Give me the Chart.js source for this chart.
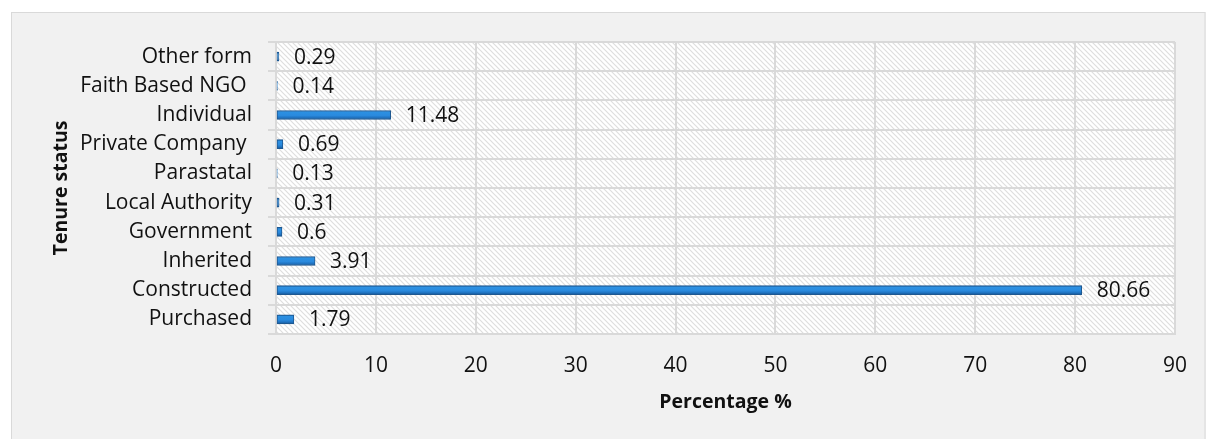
<!DOCTYPE html>
<html>
<head>
<meta charset="utf-8">
<title>Tenure status</title>
<script src="https://cdn.jsdelivr.net/npm/chart.js@4.4.1/dist/chart.umd.min.js"></script>
<style>
  html, body { margin: 0; padding: 0; background: #ffffff; }
  canvas { display: block; }
</style>
</head>
<body>
<canvas id="chart" width="1206" height="439"></canvas>
<script>
// Tenure status categories (bottom to top) and their shares in percent
const categories = [
  'Purchased', 'Constructed', 'Inherited', 'Government', 'Local Authority',
  'Parastatal', 'Private Company ', 'Individual', 'Faith Based NGO ', 'Other form'
];
const percentages = [1.79, 80.66, 3.91, 0.6, 0.31, 0.13, 0.69, 11.48, 0.14, 0.29];
const xTicks = [0, 10, 20, 30, 40, 50, 60, 70, 80, 90];

const FONT = "'Open Sans', 'Noto Sans', sans-serif";
const GRID = '#d9d9d9';

// diagonal hatch fill for the plot area
function makeHatch() {
  const s = 5;
  const c = document.createElement('canvas');
  c.width = s; c.height = s;
  const g = c.getContext('2d');
  g.fillStyle = '#ffffff';
  g.fillRect(0, 0, s, s);
  g.strokeStyle = '#dedede';
  g.lineWidth = 1.2;
  g.beginPath();
  g.moveTo(-1, -1); g.lineTo(s + 1, s + 1);
  g.moveTo(-1, s - 1); g.lineTo(1, s + 1);
  g.moveTo(s - 1, -1); g.lineTo(s + 1, 1);
  g.stroke();
  return g.createPattern(c, 'repeat');
}

const backdrop = {
  id: 'backdrop',
  beforeDraw(chart) {
    const { ctx, chartArea: a, width, height } = chart;
    ctx.save();
    ctx.fillStyle = '#ffffff';
    ctx.fillRect(0, 0, width, height);
    ctx.fillStyle = '#f1f1f1';
    ctx.fillRect(11, 12, width - 11, height - 12);
    ctx.strokeStyle = GRID;
    ctx.lineWidth = 1;
    ctx.strokeRect(11.5, 12.5, width - 12.5, height);
    ctx.fillStyle = makeHatch();
    ctx.fillRect(a.left, a.top, a.right - a.left, a.bottom - a.top);
    ctx.restore();
  }
};

// value labels to the right of each bar
const valueLabels = {
  id: 'valueLabels',
  afterDatasetsDraw(chart) {
    const { ctx } = chart;
    const meta = chart.getDatasetMeta(0);
    const data = chart.data.datasets[0].data;
    ctx.save();
    ctx.font = '21px ' + FONT;
    ctx.fillStyle = '#111111';
    ctx.textAlign = 'left';
    ctx.textBaseline = 'middle';
    meta.data.forEach((bar, i) => {
      ctx.fillText(String(data[i]), bar.x + 15, bar.y + 1);
    });
    ctx.restore();
  }
};

// cylinder-like shading across each bar
function barFill(c) {
  const chart = c.chart;
  if (c.type !== 'data' || !chart.chartArea) return '#2a88dc';
  const cy = chart.scales.y.getPixelForValue(c.dataIndex);
  const g = chart.ctx.createLinearGradient(0, cy - 4.5, 0, cy + 4.5);
  g.addColorStop(0, '#1d5f9f');
  g.addColorStop(0.18, '#2c90e2');
  g.addColorStop(0.55, '#2a8ade');
  g.addColorStop(0.82, '#1e70bd');
  g.addColorStop(1, '#174e85');
  return g;
}

new Chart(document.getElementById('chart'), {
  type: 'bar',
  data: {
    labels: categories,
    datasets: [{
      data: percentages,
      backgroundColor: barFill,
      borderColor: '#1e5891',
      borderWidth: 1,
      borderSkipped: false,
      barThickness: 9
    }]
  },
  options: {
    indexAxis: 'y',
    responsive: false,
    animation: false,
    layout: { padding: { top: 42, right: 28, bottom: 21, left: 46 } },
    plugins: { legend: { display: false }, tooltip: { enabled: false } },
    scales: {
      x: {
        min: 0,
        max: 90,
        afterFit(scale) { scale.height = 84; },
        afterBuildTicks(scale) { scale.ticks = xTicks.map(v => ({ value: v })); },
        grid: { color: GRID, lineWidth: 2, drawTicks: false },
        border: { color: GRID, width: 2 },
        ticks: { padding: 19, color: '#111111', font: { family: FONT, size: 21 } },
        title: {
          display: true,
          text: 'Percentage %',
          color: '#111111',
          font: { family: FONT, size: 19.5, weight: 'bold' }
        }
      },
      y: {
        reverse: true,
        afterFit(scale) { scale.width = 230; },
        grid: { color: GRID, lineWidth: 2, drawTicks: true, tickLength: 8, offset: true },
        border: { color: GRID, width: 2 },
        ticks: { padding: 16, color: '#111111', font: { family: FONT, size: 21 } },
        title: {
          display: true,
          text: 'Tenure status',
          color: '#111111',
          font: { family: FONT, size: 19.5, weight: 'bold' }
        }
      }
    }
  },
  plugins: [backdrop, valueLabels]
});
</script>
</body>
</html>
